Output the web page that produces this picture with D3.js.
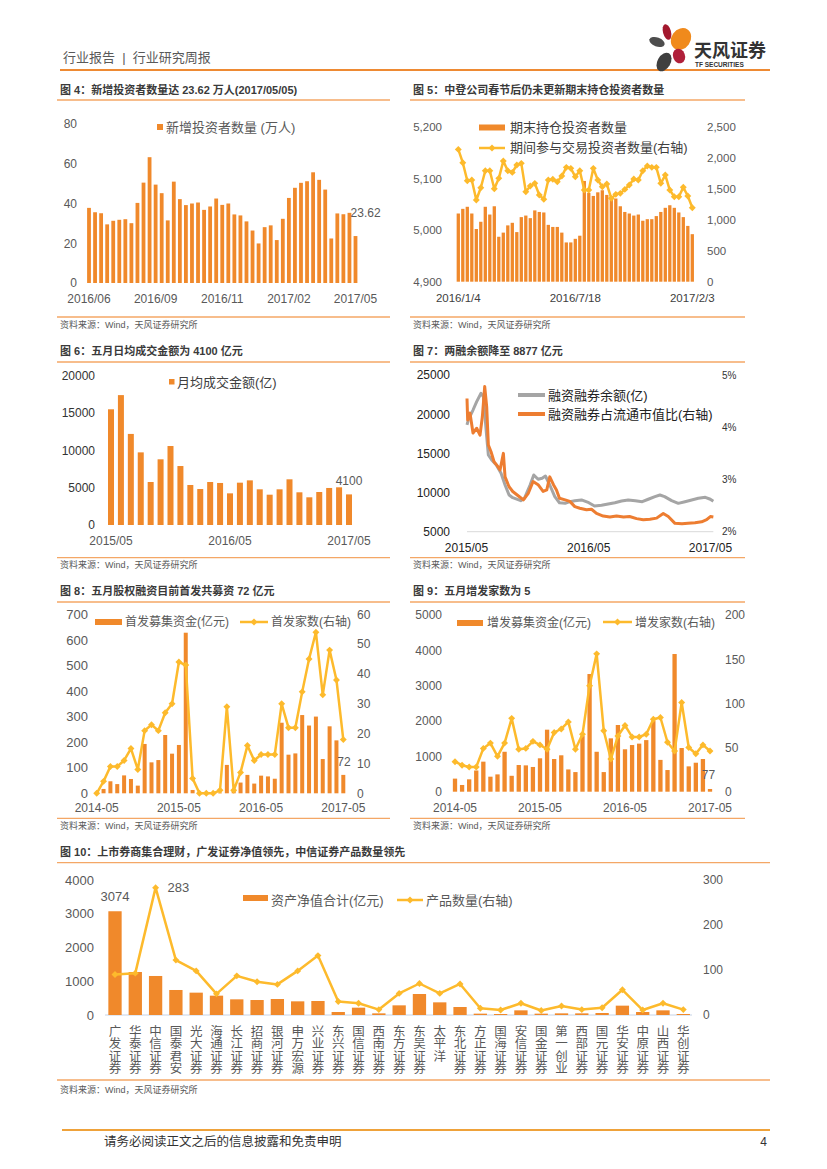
<!DOCTYPE html>
<html>
<head>
<meta charset="utf-8">
<title>行业研究周报</title>
<script src="https://cdn.jsdelivr.net/npm/d3@7/dist/d3.min.js"></script>
<style>
  body { margin: 0; background: #fff; }
  svg text { font-family: "Liberation Sans", "Noto Sans CJK SC", sans-serif; white-space: pre; }
</style>
</head>
<body>
<div id="page"></div>
<script>
// ---------- data ----------

// fig 4: weekly new investors (10k)
var newInvestorValues = [37.8, 35.6, 35.1, 29.5, 31.3, 31.8, 32.1, 30.1, 40.3, 50.5, 63.3, 49.5, 45.2, 31.5, 51.0,
  42.2, 39.2, 40.0, 40.5, 36.8, 38.5, 42.5, 39.3, 40.0, 34.5, 34.0, 31.0, 26.4, 19.9, 28.1, 29.0, 21.6, 32.3,
  42.8, 47.9, 50.4, 51.2, 55.7, 51.9, 47.0, 22.4, 35.0, 34.6, 35.3, 23.62];
var newInvestorTickIdx = [0, 11, 22, 33, 44];
var newInvestorTickLabels = ["2016/06", "2016/09", "2016/11", "2017/02", "2017/05"];

// fig 5: holding investors (10k, left) and trading investors (10k, right)
var holdInvestors = [5032, 5041, 5045, 5032, 5002, 5016, 5045, 5030, 5046, 4987, 4995, 5009, 5014, 4996, 5025,
  5028, 5023, 5038, 5035, 5034, 5010, 5006, 5006, 4995, 4976, 4976, 4983, 4989, 5095, 5072, 5066, 5073, 5077,
  5068, 5059, 5061, 5046, 5035, 5032, 5028, 5030, 5018, 5021, 5021, 5027, 5035, 5043, 5048, 5043, 5034, 5025,
  5008, 4992];
var tradeInvestors = [2134, 1919, 1629, 1640, 1317, 1516, 1790, 1790, 1500, 1667, 1946, 1790, 1763, 1882, 1909,
  1452, 1543, 1586, 1398, 1328, 1640, 1651, 1613, 1704, 1844, 1828, 1694, 1790, 1478, 1478, 1828, 1640, 1532,
  1575, 1344, 1409, 1425, 1489, 1559, 1656, 1640, 1790, 1866, 1844, 1844, 1586, 1720, 1478, 1371, 1371, 1522,
  1382, 1194];
var holdTickIdx = [0, 26, 52];
var holdTickLabels = ["2016/1/4", "2016/7/18", "2017/2/3"];

// fig 6: monthly average turnover (100m)
var turnoverMonths = ["2015/05", "2015/06", "2015/07", "2015/08", "2015/09", "2015/10", "2015/11", "2015/12",
  "2016/01", "2016/02", "2016/03", "2016/04", "2016/05", "2016/06", "2016/07", "2016/08", "2016/09", "2016/10",
  "2016/11", "2016/12", "2017/01", "2017/02", "2017/03", "2017/04", "2017/05"];
var turnoverValues = [15500, 17400, 12200, 9730, 5760, 8800, 10580, 7900, 5360, 4820, 5760, 5630, 4240, 5670,
  5980, 4780, 4060, 4780, 6120, 4380, 3710, 4420, 4960, 5050, 4100];
var turnoverTicks = ["2015/05", "2016/05", "2017/05"];

// fig 7: margin balance (100m, left) and share of float cap (%, right)
var marginDates = ["2015-05-04", "2015-05-08", "2015-05-22", "2015-06-02", "2015-06-15", "2015-06-22",
  "2015-07-02", "2015-07-07", "2015-07-17", "2015-07-31", "2015-08-14", "2015-08-26", "2015-09-07",
  "2015-09-18", "2015-10-12", "2015-10-23", "2015-11-09", "2015-11-20", "2015-12-03", "2015-12-15",
  "2015-12-25", "2016-01-07", "2016-01-22", "2016-02-05", "2016-02-22", "2016-03-07", "2016-03-22",
  "2016-04-11", "2016-05-03", "2016-05-20", "2016-06-10", "2016-06-30", "2016-07-20", "2016-08-09",
  "2016-08-29", "2016-09-19", "2016-10-10", "2016-10-28", "2016-11-17", "2016-12-02", "2016-12-16",
  "2017-01-06", "2017-01-26", "2017-02-15", "2017-03-07", "2017-03-27", "2017-04-17", "2017-05-02",
  "2017-05-11"];
var marginBalance = [18620, 19260, 20530, 21600, 22670, 22230, 17130, 14790, 14150, 13510, 12450, 10960, 9680,
  9340, 8960, 9260, 10960, 12240, 11690, 11820, 12110, 10960, 9470, 8700, 8620, 8830, 8960, 9050, 8700, 8280,
  8370, 8540, 8700, 8920, 9050, 8960, 8830, 9140, 9470, 9680, 9470, 8960, 8620, 8830, 9050, 9260, 9390, 9140,
  8877];
var ratioDates = ["2015-05-04", "2015-05-06", "2015-05-13", "2015-05-22", "2015-06-02", "2015-06-12",
  "2015-06-19", "2015-06-26", "2015-07-02", "2015-07-07", "2015-07-15", "2015-07-24", "2015-08-04",
  "2015-08-11", "2015-08-21", "2015-08-26", "2015-09-07", "2015-09-18", "2015-10-08", "2015-10-20",
  "2015-11-04", "2015-11-18", "2015-12-03", "2015-12-18", "2015-12-29", "2016-01-07", "2016-01-18",
  "2016-01-27", "2016-02-05", "2016-02-22", "2016-03-07", "2016-03-22", "2016-04-06", "2016-04-26",
  "2016-05-11", "2016-05-26", "2016-06-15", "2016-07-05", "2016-07-25", "2016-08-15", "2016-09-02",
  "2016-09-23", "2016-10-13", "2016-11-02", "2016-11-22", "2016-12-12", "2016-12-27", "2017-01-16",
  "2017-02-06", "2017-02-24", "2017-03-17", "2017-04-06", "2017-04-21", "2017-05-02", "2017-05-11"];
var ratioValues = [4.55, 4.14, 4.27, 3.89, 3.98, 3.85, 4.2, 4.78, 4.39, 3.66, 3.53, 3.34, 3.25, 3.18, 3.5, 3.05,
  2.86, 2.77, 2.67, 2.61, 2.74, 2.96, 2.9, 2.77, 2.8, 3.05, 2.9, 2.8, 2.64, 2.61, 2.58, 2.48, 2.45, 2.42, 2.43,
  2.35, 2.3, 2.28, 2.3, 2.28, 2.29, 2.25, 2.23, 2.24, 2.26, 2.35, 2.29, 2.16, 2.15, 2.16, 2.17, 2.19, 2.23,
  2.29, 2.28];
var marginTicks = ["2015-05-01", "2016-05-01", "2017-05-01"];

// fig 8 & 9: monthly IPO / follow-on issuance
var issueMonths = ["2014-05", "2014-06", "2014-07", "2014-08", "2014-09", "2014-10", "2014-11", "2014-12",
  "2015-01", "2015-02", "2015-03", "2015-04", "2015-05", "2015-06", "2015-07", "2015-08", "2015-09", "2015-10",
  "2015-11", "2015-12", "2016-01", "2016-02", "2016-03", "2016-04", "2016-05", "2016-06", "2016-07", "2016-08",
  "2016-09", "2016-10", "2016-11", "2016-12", "2017-01", "2017-02", "2017-03", "2017-04", "2017-05"];
var issueTicks = ["2014-05", "2015-05", "2016-05", "2017-05"];
var ipoFunds = [0, 17, 47, 36, 70, 56, 30, 193, 121, 130, 228, 155, 189, 628, 13, 0, 0, 0, 3, 111, 13, 42, 72,
  38, 69, 66, 57, 276, 151, 156, 306, 265, 300, 134, 262, 207, 72];
var ipoCount = [0, 4, 9, 9, 11, 15, 8, 21, 23, 21, 27, 30, 44, 43, 5, 0, 0, 0, 1, 29, 1, 7, 16, 11, 13, 13, 13,
  30, 22, 22, 34, 45, 54, 33, 48, 38, 18];
var seoFunds = [370, 190, 350, 600, 850, 425, 490, 1130, 450, 755, 745, 700, 945, 1755, 925, 1030, 630, 555,
  1575, 3330, 1130, 555, 1510, 1887, 1200, 1320, 1360, 1460, 2000, 900, 613, 3896, 1236, 717, 820, 925, 77];
var seoCount = [34, 30, 28, 28, 49, 55, 40, 55, 83, 48, 49, 57, 53, 48, 67, 71, 79, 48, 65, 120, 156, 69, 37,
  63, 75, 62, 62, 65, 82, 84, 56, 46, 101, 50, 43, 53, 46];

// fig 10: brokers' collective asset management
var brokers = ["广发证券", "华泰证券", "中信证券", "国泰君安", "光大证券", "海通证券", "长江证券", "招商证券",
  "银河证券", "申万宏源", "兴业证券", "东兴证券", "国信证券", "西南证券", "东方证券", "东吴证券", "太平洋",
  "东北证券", "方正证券", "国海证券", "安信证券", "国金证券", "第一创业", "西部证券", "国元证券", "华安证券",
  "中原证券", "山西证券", "华创证券"];
var brokerNav = [3074, 1274, 1156, 741, 662, 573, 464, 444, 474, 405, 415, 89, 217, 49, 286, 622, 375, 237, 40,
  30, 138, 40, 49, 49, 59, 277, 89, 138, 30];
var brokerProducts = [90, 93, 283, 122, 98, 47, 87, 74, 68, 98, 132, 30, 26, 12, 48, 70, 48, 69, 15, 11, 26, 10,
  20, 12, 16, 56, 11, 26, 12];

// ---------- page ----------
var BAR = "#F0892B";
var GOLD = "#FDBA2C";
var RULE = "#F4A766";
var TICK = "#595959";

var svg = d3.select("#page")
    .append("svg")
    .attr("width", 827)
    .attr("height", 1169);

function txt(x, y, s, size, fill, anchor, weight) {
    return svg.append("text")
        .attr("x", x)
        .attr("y", y)
        .attr("font-size", size)
        .attr("fill", fill || TICK)
        .attr("text-anchor", anchor || "start")
        .attr("font-weight", weight || "normal")
        .text(s);
}

function hline(x0, x1, y, color, w) {
    svg.append("line")
        .attr("x1", x0).attr("x2", x1)
        .attr("y1", y).attr("y2", y)
        .attr("stroke", color)
        .attr("stroke-width", w);
}

// title, two rules and source note of one figure
function panel(x0, x1, titleY, topY, botY, srcY, title) {
    txt(x0 + 3, titleY, title, 11, "#3a3a3a", "start", "bold");
    hline(x0, x1, topY, RULE, 1.3);
    hline(x0, x1, botY, RULE, 1.3);
    if (srcY) txt(x0 + 3, srcY, "资料来源：Wind，天风证券研究所", 9, "#595959");
}

// band scale whose first/last band centres sit at c0/c1
function band(domain, c0, c1, barW) {
    var step = (c1 - c0) / (domain.length - 1);
    var pad = 1 - barW / step;
    return d3.scaleBand()
        .domain(domain)
        .range([c0 - step / 2, c1 + step / 2])
        .paddingInner(pad)
        .paddingOuter(pad / 2);
}

function yAxis(scale, x, side, vals, fmt, size, color) {
    var ax = side === "left" ? d3.axisLeft(scale) : d3.axisRight(scale);
    ax.tickValues(vals).tickSize(0).tickPadding(0).tickFormat(fmt);
    var g = svg.append("g")
        .attr("transform", `translate(${x},0)`)
        .call(ax);
    g.select(".domain").remove();
    g.attr("font-size", size);
    g.selectAll("text").attr("fill", color);
    return g;
}

function xAxis(scale, y, vals, fmt, size, color) {
    var g = svg.append("g")
        .attr("transform", `translate(0,${y})`)
        .call(d3.axisBottom(scale).tickValues(vals).tickSize(0).tickPadding(0).tickFormat(fmt));
    g.select(".domain").remove();
    g.attr("font-size", size);
    g.selectAll("text").attr("fill", color);
    return g;
}

function bars(data, x, y, base) {
    svg.append("g").selectAll("rect")
        .data(data)
        .enter()
        .append("rect")
        .attr("x", (d, i) => x(x.domain()[i]))
        .attr("y", d => y(d))
        .attr("width", x.bandwidth())
        .attr("height", d => Math.max(0, y(base) - y(d)))
        .attr("fill", BAR);
}

var diamond = d3.symbol().type(d3.symbolSquare).size(24);

function goldLine(data, x, y, width) {
    var cx = (d, i) => x(x.domain()[i]) + x.bandwidth() / 2;
    svg.append("path")
        .datum(data)
        .attr("fill", "none")
        .attr("stroke", GOLD)
        .attr("stroke-width", width)
        .attr("stroke-linejoin", "round")
        .attr("d", d3.line().x(cx).y(d => y(d)));
    svg.append("g").selectAll("path")
        .data(data)
        .enter()
        .append("path")
        .attr("d", diamond)
        .attr("fill", GOLD)
        .attr("transform", (d, i) => `translate(${cx(d, i)},${y(d)}) rotate(45)`);
}

function lineLegend(x0, x1, y, color, marker) {
    hline(x0, x1, y, color, marker ? 2.5 : 4);
    if (marker) {
        svg.append("path")
            .attr("d", diamond)
            .attr("fill", color)
            .attr("transform", `translate(${(x0 + x1) / 2},${y}) rotate(45)`);
    }
}

// ---------- header ----------
txt(63, 62, "行业报告  |  行业研究周报", 13, "#595959");
hline(60, 770, 70, "#EE8A33", 2);

// logo petals
var petals = [
    {cx: 667, cy: 32, rx: 4, ry: 8, r: -15, c: "#A3182E"},
    {cx: 681, cy: 39, rx: 9.5, ry: 11.5, r: 35, c: "#F08A1C"},
    {cx: 657, cy: 42, rx: 8, ry: 4.5, r: 20, c: "#4D4D4D"},
    {cx: 679, cy: 56, rx: 6, ry: 7.5, r: -20, c: "#B0203A"},
    {cx: 664, cy: 62, rx: 6.5, ry: 10, r: 30, c: "#3F3F3F"}
];
svg.append("g").selectAll("ellipse")
    .data(petals)
    .enter()
    .append("ellipse")
    .attr("rx", d => d.rx)
    .attr("ry", d => d.ry)
    .attr("fill", d => d.c)
    .attr("transform", d => `translate(${d.cx},${d.cy}) rotate(${d.r})`);
txt(694, 57, "天风证券", 18, "#333", "start", "bold");
txt(695, 67, "TF SECURITIES", 6.5, "#333", "start", "bold");

// ---------- fig 4 ----------
panel(57, 390, 94, 100, 317, 328, "图 4：新增投资者数量达 23.62 万人(2017/05/05)");
var x4 = band(d3.range(newInvestorValues.length), 89, 355.5, 3.8);
var y4 = d3.scaleLinear().domain([0, 80]).range([283, 124]);
bars(newInvestorValues, x4, y4, 0);
yAxis(y4, 77, "left", [0, 20, 40, 60, 80], d3.format("d"), 12, TICK);
xAxis(x4, 294, newInvestorTickIdx, (d, i) => newInvestorTickLabels[i], 12, TICK);
svg.append("rect").attr("x", 157).attr("y", 124).attr("width", 6).attr("height", 6).attr("fill", BAR);
txt(166, 132, "新增投资者数量 (万人)", 13, TICK);
txt(x4(newInvestorValues.length - 1) - 3, y4(35) + 4, "23.62", 12, TICK);

// ---------- fig 5 ----------
panel(410, 745, 94, 100, 317, 328, "图 5：中登公司春节后仍未更新期末持仓投资者数量");
var x5 = band(d3.range(holdInvestors.length), 458.3, 692.3, 3.3);
var y5 = d3.scaleLinear().domain([4900, 5200]).range([281.7, 126.7]);
var y5r = d3.scaleLinear().domain([0, 2500]).range([281.7, 126.7]);
bars(holdInvestors, x5, y5, 4900);
goldLine(tradeInvestors, x5, y5r, 2.5);
yAxis(y5, 442, "left", [4900, 5000, 5100, 5200], d3.format(","), 11.5, TICK);
yAxis(y5r, 707, "right", [0, 500, 1000, 1500, 2000, 2500], d3.format(","), 11.5, TICK);
xAxis(x5, 294, holdTickIdx, (d, i) => holdTickLabels[i], 11.5, "#404040");
svg.append("rect").attr("x", 479).attr("y", 124.5).attr("width", 26).attr("height", 6).attr("fill", BAR);
txt(510, 132, "期末持仓投资者数量", 13, "#404040");
lineLegend(479, 505, 148, GOLD, true);
txt(510, 152, "期间参与交易投资者数量(右轴)", 13, "#404040");

// ---------- fig 6 ----------
panel(57, 390, 355, 362, 557.7, 568, "图 6：五月日均成交金额为 4100 亿元");
var x6 = band(turnoverMonths, 111, 349, 6);
var y6 = d3.scaleLinear().domain([0, 20000]).range([525, 375.7]);
bars(turnoverValues, x6, y6, 0);
yAxis(y6, 95, "left", [0, 5000, 10000, 15000, 20000], d3.format("d"), 12, "#333");
xAxis(x6, 536, turnoverTicks, d => d, 12, TICK);
svg.append("rect").attr("x", 169).attr("y", 379).attr("width", 5.5).attr("height", 5.5).attr("fill", BAR);
txt(177, 387, "月均成交金额(亿)", 13, "#404040");
txt(x6(turnoverMonths[turnoverMonths.length - 1]) + x6.bandwidth() / 2, 485, "4100", 12, TICK, "middle");

// ---------- fig 7 ----------
panel(410, 745, 355, 362, 557.7, 568, "图 7：两融余额降至 8877 亿元");
var parseDay = d3.timeParse("%Y-%m-%d");
var x7 = d3.scaleTime().domain([parseDay("2015-05-01"), parseDay("2017-05-01")]).range([466, 710]);
var y7 = d3.scaleLinear().domain([5000, 25000]).range([531.7, 375]);
var y7r = d3.scaleLinear().domain([2, 5]).range([531.7, 375]);
hline(x7(parseDay(marginDates[0])), x7(parseDay(marginDates[marginDates.length - 1])), y7(5000), "#D9D9D9", 1);
svg.append("path")
    .datum(marginBalance)
    .attr("fill", "none")
    .attr("stroke", "#A5A5A5")
    .attr("stroke-width", 3)
    .attr("stroke-linejoin", "round")
    .attr("d", d3.line().x((d, i) => x7(parseDay(marginDates[i]))).y(d => y7(d)));
svg.append("path")
    .datum(ratioValues)
    .attr("fill", "none")
    .attr("stroke", "#ED7D31")
    .attr("stroke-width", 3)
    .attr("stroke-linejoin", "round")
    .attr("d", d3.line().x((d, i) => x7(parseDay(ratioDates[i]))).y(d => y7r(d)));
yAxis(y7, 450, "left", [5000, 10000, 15000, 20000, 25000], d3.format("d"), 12, "#222");
yAxis(y7r, 722, "right", [2, 3, 4, 5], d => d + "%", 10, "#333");
xAxis(x7, 543, marginTicks.map(parseDay), d3.timeFormat("%Y/%m"), 12, "#222");
lineLegend(518, 545, 395, "#A5A5A5", false);
txt(548, 399.5, "融资融券余额(亿)", 13, "#222");
lineLegend(518, 545, 414, "#ED7D31", false);
txt(548, 418.5, "融资融券占流通市值比(右轴)", 13, "#222");

// ---------- fig 8 ----------
panel(57, 390, 595, 602, 818.3, 829, "图 8：五月股权融资目前首发共募资 72 亿元");
var x8 = band(issueMonths, 96.7, 343.3, 4);
var y8 = d3.scaleLinear().domain([0, 700]).range([793.3, 614.3]);
var y8r = d3.scaleLinear().domain([0, 60]).range([793.3, 614.3]);
bars(ipoFunds, x8, y8, 0);
goldLine(ipoCount, x8, y8r, 2.5);
yAxis(y8, 88, "left", d3.range(0, 701, 100), d3.format("d"), 13, TICK);
yAxis(y8r, 357, "right", d3.range(0, 61, 10), d3.format("d"), 12, TICK);
xAxis(x8, 803, issueTicks, d => d, 12, TICK);
svg.append("rect").attr("x", 95).attr("y", 619).attr("width", 27).attr("height", 6).attr("fill", BAR);
txt(125, 626, "首发募集资金(亿元)", 12, TICK);
lineLegend(240, 268, 622, GOLD, true);
txt(271, 626, "首发家数(右轴)", 12, TICK);
txt(x8(issueMonths[issueMonths.length - 1]) - 4, 766, "72", 12, TICK);

// ---------- fig 9 ----------
panel(410, 745, 595, 602, 818.3, 829, "图 9：五月增发家数为 5");
var x9 = band(issueMonths, 455, 710, 4.3);
var y9 = d3.scaleLinear().domain([0, 5000]).range([791.7, 615]);
var y9r = d3.scaleLinear().domain([0, 200]).range([791.7, 615]);
bars(seoFunds, x9, y9, 0);
goldLine(seoCount, x9, y9r, 2.5);
yAxis(y9, 442, "left", d3.range(0, 5001, 1000), d3.format("d"), 12, TICK);
yAxis(y9r, 725, "right", d3.range(0, 201, 50), d3.format("d"), 12, TICK);
xAxis(x9, 803, issueTicks, d => d, 12, TICK);
svg.append("rect").attr("x", 457).attr("y", 620).attr("width", 26).attr("height", 6).attr("fill", BAR);
txt(487, 627, "增发募集资金(亿元)", 12, TICK);
lineLegend(603, 632, 622, GOLD, true);
txt(635, 627, "增发家数(右轴)", 12, TICK);
txt(x9(issueMonths[issueMonths.length - 1]) - 6, 779, "77", 12, TICK);

// ---------- fig 10 ----------
panel(57, 770, 856, 862.7, 1080, 1093, "图 10：上市券商集合理财，广发证券净值领先，中信证券产品数量领先");
var x10 = band(brokers, 115, 683.3, 13.3);
var y10 = d3.scaleLinear().domain([0, 4000]).range([1015, 880]);
var y10r = d3.scaleLinear().domain([0, 300]).range([1015, 880]);
hline(105, 692, y10(0), "#C6D3E6", 1);
bars(brokerNav, x10, y10, 0);
goldLine(brokerProducts, x10, y10r, 2.5);
yAxis(y10, 94, "left", d3.range(0, 4001, 1000), d3.format("d"), 13, TICK);
yAxis(y10r, 703, "right", d3.range(0, 301, 100), d3.format("d"), 12, TICK);

// broker names written top to bottom
var nameGroup = svg.append("g").selectAll("text")
    .data(brokers)
    .enter()
    .append("text")
    .attr("font-size", 12.5)
    .attr("fill", TICK)
    .attr("text-anchor", "middle");
nameGroup.selectAll("tspan")
    .data(d => d.split(""))
    .enter()
    .append("tspan")
    .attr("x", function() { return x10(d3.select(this.parentNode).datum()) + x10.bandwidth() / 2; })
    .attr("y", (c, k) => 1036 + k * 12.3)
    .text(c => c);

txt(x10(brokers[0]) + x10.bandwidth() / 2, 901, "3074", 13, TICK, "middle");
txt(x10(brokers[2]) + x10.bandwidth() / 2 + 12, 892, "283", 13, TICK);
svg.append("rect").attr("x", 243).attr("y", 895).attr("width", 25).attr("height", 6).attr("fill", BAR);
txt(271, 904.5, "资产净值合计(亿元)", 13, TICK);
lineLegend(397, 423, 900, GOLD, true);
txt(426, 904.5, "产品数量(右轴)", 13, TICK);

// ---------- footer ----------
hline(62, 770, 1130, "#EFA23A", 2);
txt(104, 1146, "请务必阅读正文之后的信息披露和免责申明", 12.5, "#333");
txt(767, 1146, "4", 12, "#333", "end");
</script>
</body>
</html>
